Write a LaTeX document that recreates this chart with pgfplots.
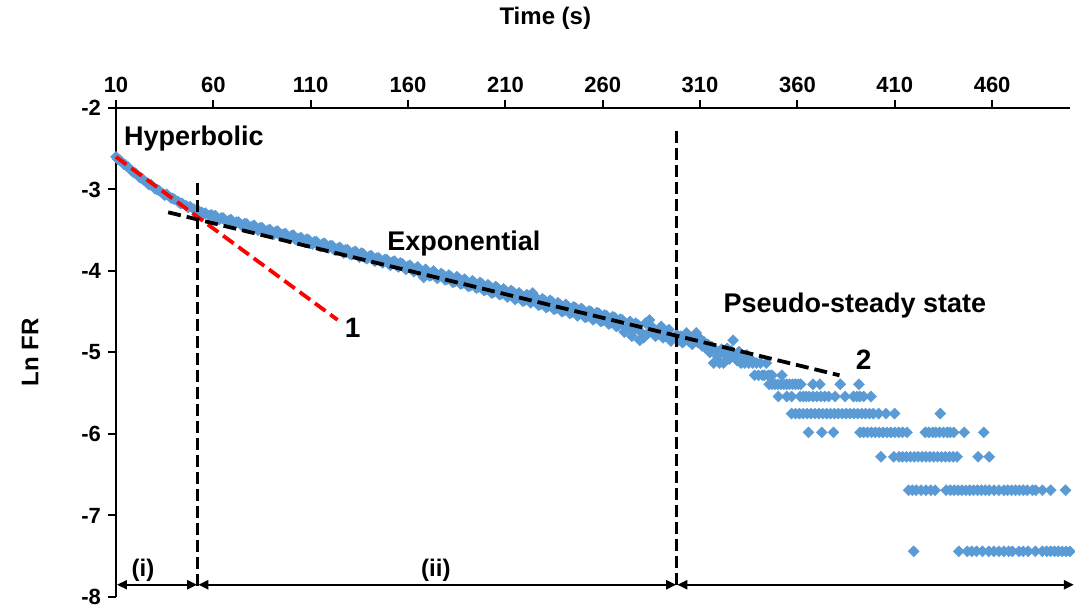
\documentclass[border=0pt]{standalone}
\usepackage{fontspec}
\setmainfont{Liberation Sans}
\usepackage{pgfplots}
\pgfplotsset{compat=1.18}
\usetikzlibrary{arrows.meta}
\definecolor{exblue}{HTML}{5B9BD5}
\begin{document}
\begin{tikzpicture}
\begin{axis}[
 name=ax,
 scale only axis, width=477pt, height=244.5pt,
 xmin=10, xmax=500, ymin=-8, ymax=-2,
 axis x line*=top, axis y line*=left,
 xtick={10,60,...,460}, ytick={-8,-7,...,-2},
 tick align=outside, major tick length=4pt,
 tick style={black, line width=1pt},
 axis line style={black, line width=1pt},
 tick label style={font=\fontsize{11}{13}\selectfont\bfseries},
 /pgf/number format/assume math mode=true,
 xlabel={Time (s)}, ylabel={Ln FR},
 xlabel style={font=\fontsize{12}{14}\selectfont\bfseries, at={(axis description cs:0.45,1.184)}, anchor=center},
 ylabel style={font=\fontsize{12}{14}\selectfont\bfseries, at={(axis description cs:-0.0901,0.5)}, anchor=center},
 clip=false, clip marker paths=true,
]
\addplot[only marks, mark=square*, mark size=1.95pt, color=exblue, mark options={rotate=45, fill=exblue, draw=exblue, line width=0.2pt}] table[row sep=\\] {
x y\\
10 -2.60\\ 12 -2.64\\ 14 -2.69\\ 16 -2.72\\ 18 -2.77\\ 20 -2.80\\ 22 -2.85\\ 24 -2.88\\ 26 -2.92\\ 28 -2.94\\
30 -2.99\\ 32 -3.01\\ 34 -3.05\\ 36 -3.06\\ 38 -3.10\\ 40 -3.12\\ 42 -3.15\\ 44 -3.17\\ 46 -3.20\\ 48 -3.21\\
50 -3.24\\ 52 -3.25\\ 54 -3.28\\ 56 -3.29\\ 58 -3.32\\
11 -2.63\\ 15 -2.70\\ 19 -2.79\\ 23 -2.86\\ 27 -2.94\\ 31 -3.00\\ 35 -3.07\\ 39 -3.11\\ 43 -3.17\\ 47 -3.22\\ 51 -3.26\\ 55 -3.30\\ 59 -3.31\\
60 -3.33\\ 62 -3.36\\ 64 -3.35\\ 66 -3.38\\ 68 -3.38\\ 70 -3.41\\ 72 -3.40\\ 74 -3.43\\ 76 -3.42\\ 78 -3.46\\
80 -3.45\\ 82 -3.48\\ 84 -3.47\\ 86 -3.51\\ 88 -3.50\\ 90 -3.53\\ 92 -3.52\\ 94 -3.56\\ 96 -3.55\\ 98 -3.58\\
100 -3.57\\ 102 -3.61\\ 104 -3.60\\ 106 -3.63\\ 108 -3.61\\ 110 -3.66\\ 112 -3.64\\ 114 -3.68\\ 116 -3.67\\ 118 -3.71\\
120 -3.69\\ 122 -3.74\\ 124 -3.72\\ 126 -3.76\\ 128 -3.74\\ 130 -3.79\\ 132 -3.77\\ 134 -3.80\\ 136 -3.78\\ 138 -3.84\\
140 -3.82\\ 142 -3.86\\ 144 -3.84\\ 146 -3.88\\ 148 -3.86\\ 150 -3.91\\ 152 -3.89\\ 154 -3.93\\ 156 -3.90\\ 158 -3.96\\
160 -3.94\\ 162 -3.98\\ 164 -3.97\\ 166 -4.02\\ 168 -4.08\\ 170 -4.01\\ 172 -4.05\\ 174 -4.02\\ 176 -4.07\\ 178 -4.05\\
180 -4.10\\ 182 -4.07\\ 184 -4.13\\ 186 -4.09\\ 188 -4.15\\ 190 -4.12\\ 192 -4.18\\ 194 -4.14\\ 196 -4.20\\ 198 -4.16\\
200 -4.23\\ 202 -4.19\\ 204 -4.26\\ 206 -4.21\\ 208 -4.28\\ 210 -4.24\\ 212 -4.30\\ 214 -4.26\\ 216 -4.33\\ 218 -4.29\\
220 -4.36\\ 222 -4.31\\ 224 -4.27\\ 226 -4.34\\ 228 -4.41\\ 230 -4.36\\ 232 -4.43\\ 234 -4.38\\ 236 -4.46\\ 238 -4.41\\
240 -4.49\\ 242 -4.43\\ 244 -4.51\\ 246 -4.45\\ 248 -4.53\\ 250 -4.48\\ 252 -4.56\\ 254 -4.50\\ 256 -4.58\\ 258 -4.52\\
260 -4.61\\ 262 -4.55\\ 264 -4.64\\ 266 -4.57\\ 268 -4.67\\ 270 -4.60\\ 272 -4.70\\ 274 -4.62\\ 276 -4.72\\ 278 -4.66\\
280 -4.76\\ 282 -4.64\\ 284 -4.60\\ 286 -4.71\\ 288 -4.78\\ 290 -4.68\\ 292 -4.80\\ 294 -4.72\\ 296 -4.83\\
61 -3.32\\ 63 -3.37\\ 65 -3.35\\ 67 -3.40\\ 69 -3.37\\ 71 -3.42\\ 73 -3.40\\ 75 -3.45\\ 77 -3.42\\ 79 -3.47\\
81 -3.44\\ 83 -3.50\\ 85 -3.47\\ 87 -3.52\\ 89 -3.49\\ 91 -3.55\\ 93 -3.51\\ 95 -3.57\\ 97 -3.54\\ 99 -3.60\\
101 -3.56\\ 103 -3.62\\ 105 -3.59\\ 107 -3.65\\ 109 -3.62\\ 111 -3.67\\ 113 -3.64\\ 115 -3.70\\ 117 -3.66\\ 119 -3.72\\
121 -3.69\\ 123 -3.75\\ 125 -3.71\\ 127 -3.78\\ 129 -3.74\\ 131 -3.80\\ 133 -3.76\\ 135 -3.83\\ 137 -3.79\\ 139 -3.85\\
141 -3.81\\ 143 -3.88\\ 145 -3.84\\ 147 -3.90\\ 149 -3.86\\ 151 -3.93\\ 153 -3.88\\ 155 -3.95\\ 157 -3.91\\ 159 -3.98\\
161 -3.93\\ 163 -4.01\\ 165 -3.95\\ 167 -4.04\\ 169 -3.98\\ 171 -4.06\\ 173 -4.00\\ 175 -4.09\\ 177 -4.03\\ 179 -4.11\\
181 -4.05\\ 183 -4.14\\ 185 -4.07\\ 187 -4.16\\ 189 -4.10\\ 191 -4.19\\ 193 -4.12\\ 195 -4.21\\ 197 -4.14\\ 199 -4.24\\
201 -4.17\\ 203 -4.27\\ 205 -4.19\\ 207 -4.29\\ 209 -4.22\\ 211 -4.32\\ 213 -4.24\\ 215 -4.35\\ 217 -4.27\\ 219 -4.37\\
221 -4.29\\ 223 -4.39\\ 225 -4.31\\ 227 -4.42\\ 229 -4.34\\ 231 -4.45\\ 233 -4.36\\ 235 -4.47\\ 237 -4.39\\ 239 -4.50\\
241 -4.41\\ 243 -4.52\\ 245 -4.44\\ 247 -4.55\\ 249 -4.46\\ 251 -4.57\\ 253 -4.49\\ 255 -4.60\\ 257 -4.51\\ 259 -4.62\\
261 -4.54\\ 263 -4.65\\ 265 -4.56\\ 267 -4.68\\ 269 -4.59\\ 273 -4.71\\ 277 -4.64\\ 283 -4.77\\ 285 -4.68\\ 287 -4.80\\
289 -4.72\\ 291 -4.82\\ 293 -4.74\\ 295 -4.86\\
271 -4.75\\ 275 -4.80\\ 279 -4.85\\ 281 -4.82\\
298 -4.78\\ 299 -4.85\\ 300 -4.80\\ 301 -4.88\\ 302 -4.82\\ 303 -4.76\\ 304 -4.86\\ 305 -4.81\\ 306 -4.90\\ 307 -4.84\\
308 -4.76\\ 309 -4.88\\ 310 -4.83\\ 311 -4.92\\ 312 -4.87\\ 313 -4.95\\ 314 -4.90\\ 315 -5.00\\ 316 -4.93\\ 317 -5.13\\
318 -4.97\\ 319 -5.05\\ 320 -5.13\\ 321 -4.96\\ 322 -5.13\\ 323 -5.02\\ 324 -4.95\\ 325 -5.08\\ 326 -4.98\\ 327 -4.85\\
328 -5.03\\ 329 -5.10\\ 330 -4.99\\ 331 -5.13\\ 332 -5.05\\ 333 -5.13\\ 334 -5.03\\ 335 -5.13\\ 336 -5.08\\ 337 -5.13\\
338 -5.28\\ 339 -5.13\\ 340 -5.28\\ 341 -5.13\\ 342 -5.28\\ 343 -5.28\\ 344 -5.13\\ 345 -5.28\\ 346 -5.28\\ 347 -5.28\\ 352 -5.28\\
345.5 -5.39\\ 347 -5.39\\ 348.5 -5.39\\ 350 -5.39\\ 351.5 -5.39\\ 353 -5.39\\ 354.5 -5.39\\ 356 -5.39\\ 357.5 -5.39\\ 359 -5.39\\
360.5 -5.39\\ 361.7 -5.39\\ 368 -5.39\\ 371.5 -5.39\\ 382 -5.39\\ 391.6 -5.39\\
350.2 -5.54\\ 354.5 -5.54\\ 357 -5.54\\ 361.4 -5.54\\ 363 -5.54\\ 364.5 -5.54\\ 366 -5.54\\ 368 -5.54\\ 370 -5.54\\ 372 -5.54\\
374 -5.54\\ 376 -5.54\\ 379.4 -5.54\\ 384.5 -5.54\\ 388.8 -5.54\\ 390.5 -5.54\\ 392 -5.54\\ 394 -5.54\\ 397.8 -5.54\\
357 -5.75\\ 359 -5.75\\ 361 -5.75\\ 363 -5.75\\ 365 -5.75\\ 367 -5.75\\ 369 -5.75\\ 371 -5.75\\ 373 -5.75\\ 375 -5.75\\
377 -5.75\\ 379 -5.75\\ 381 -5.75\\ 383 -5.75\\ 385 -5.75\\ 387 -5.75\\ 389 -5.75\\ 391 -5.75\\ 393 -5.75\\ 395 -5.75\\
397 -5.75\\ 399 -5.75\\ 401.7 -5.75\\ 405.5 -5.75\\ 409.9 -5.75\\ 433.4 -5.75\\
365.7 -5.98\\ 372.5 -5.98\\ 378.5 -5.98\\ 392.2 -5.98\\ 394 -5.98\\ 396 -5.98\\ 398 -5.98\\ 400 -5.98\\ 402 -5.98\\ 404 -5.98\\
406 -5.98\\ 408 -5.98\\ 410 -5.98\\ 412 -5.98\\ 414 -5.98\\ 416.3 -5.98\\ 425.7 -5.98\\ 427.5 -5.98\\ 429.5 -5.98\\ 431 -5.98\\
433 -5.98\\ 435 -5.98\\ 437 -5.98\\ 438.5 -5.98\\ 440.3 -5.98\\ 445.7 -5.98\\ 455.7 -5.98\\
402.9 -6.28\\ 409.5 -6.28\\ 412.2 -6.28\\ 414 -6.28\\ 416 -6.28\\ 418 -6.28\\ 420 -6.28\\ 422 -6.28\\ 424 -6.28\\ 426 -6.28\\
428 -6.28\\ 430 -6.28\\ 432 -6.28\\ 434 -6.28\\ 436 -6.28\\ 438 -6.28\\ 440 -6.28\\ 442 -6.28\\ 452.8 -6.28\\ 458.5 -6.28\\
417.1 -6.69\\ 419 -6.69\\ 421 -6.69\\ 423.5 -6.69\\ 426 -6.69\\ 428.5 -6.69\\ 430.7 -6.69\\ 436.4 -6.69\\ 438.5 -6.69\\ 440.5 -6.69\\
442.5 -6.69\\ 444.5 -6.69\\ 446.5 -6.69\\ 448.5 -6.69\\ 450.5 -6.69\\ 452.5 -6.69\\ 454.5 -6.69\\ 456.5 -6.69\\ 458.5 -6.69\\ 461 -6.69\\
463.5 -6.69\\ 466.1 -6.69\\ 468 -6.69\\ 470 -6.69\\ 472 -6.69\\ 474 -6.69\\ 476 -6.69\\ 478 -6.69\\ 480.7 -6.69\\ 482.4 -6.69\\
485.8 -6.69\\ 490.1 -6.69\\ 497.7 -6.69\\
419.7 -7.44\\ 442.9 -7.44\\ 447.2 -7.44\\ 449.5 -7.44\\ 452 -7.44\\ 455 -7.44\\ 458.3 -7.44\\ 460.9 -7.44\\ 463.5 -7.44\\ 466 -7.44\\
468.5 -7.44\\ 470.4 -7.44\\ 473.8 -7.44\\ 476 -7.44\\ 478.5 -7.44\\ 482.2 -7.44\\ 485.8 -7.44\\ 488 -7.44\\ 490 -7.44\\ 492 -7.44\\
494 -7.44\\ 496 -7.44\\ 498 -7.44\\ 500 -7.44\\
};
\addplot[red, line width=1.9pt, dash pattern=on 6.5pt off 3pt] coordinates {(10,-2.60) (123.8,-4.60)};
\addplot[black, line width=1.9pt, dash pattern=on 6.5pt off 3pt] coordinates {(36.8,-3.28) (381.6,-5.28)};
\draw[black, line width=1.5pt, dash pattern=on 6pt off 2.5pt] (axis cs:52,-2.92) -- (axis cs:52,-7.88);
\draw[black, line width=1.5pt, dash pattern=on 6pt off 2.5pt] (axis cs:298,-2.28) -- (axis cs:298,-7.88);
\draw[line width=1pt, {Triangle[length=5pt,width=4.5pt]}-{Triangle[length=5pt,width=4.5pt]}] (axis cs:10.5,-7.85) -- (axis cs:51.7,-7.85);
\draw[line width=1pt, {Triangle[length=5pt,width=4.5pt]}-{Triangle[length=5pt,width=4.5pt]}] (axis cs:52.3,-7.85) -- (axis cs:297.7,-7.85);
\draw[line width=1pt, {Triangle[length=5pt,width=4.5pt]}-{Triangle[length=5pt,width=4.5pt]}] (axis cs:298.3,-7.85) -- (axis cs:502,-7.85);
\node[anchor=west, font=\fontsize{13.5}{16}\selectfont\bfseries] at (axis cs:10.5,-2.37) {Hyperbolic};
\node[font=\fontsize{13.5}{16}\selectfont\bfseries] at (axis cs:188.7,-3.66) {Exponential};
\node[font=\fontsize{13.5}{16}\selectfont\bfseries] at (axis cs:389.5,-4.42) {Pseudo-steady state};
\node[font=\fontsize{14}{16}\selectfont\bfseries] at (axis cs:131.5,-4.70) {1};
\node[font=\fontsize{14}{16}\selectfont\bfseries] at (axis cs:394,-5.09) {2};
\node[font=\fontsize{12}{14}\selectfont\bfseries] at (axis cs:23.9,-7.67) {(i)};
\node[font=\fontsize{12}{14}\selectfont\bfseries] at (axis cs:174.3,-7.67) {(ii)};
\end{axis}
\pgfresetboundingbox
\path[use as bounding box] ([xshift=-58pt,yshift=-6pt]ax.south west) rectangle ([xshift=2.5pt,yshift=54pt]ax.north east);
\end{tikzpicture}
\end{document}
